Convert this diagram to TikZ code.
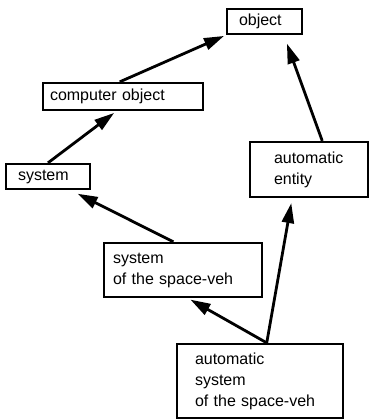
\documentclass[tikz,border=0pt]{standalone}
\usepackage{fontspec}
\setmainfont{Liberation Sans}
\usetikzlibrary{arrows.meta,calc}

\begin{document}
\begin{tikzpicture}[x=1pt,y=-1pt,
  box/.style={draw=black, line width=2.3pt, align=left, inner ysep=0pt,
    font=\fontsize{16}{21}\selectfont},
  arr/.style={line width=2.8pt, -{Triangle[length=20pt,width=12pt]}},
]
\useasboundingbox (0,0) rectangle (369,419);

% boxes: minimum width W, left padding p -> text width W-2p
\node[box, minimum width=75pt, minimum height=25pt, text width=51pt, inner xsep=12pt]
  (obj) at (264.5,21.5) {object};
\node[box, minimum width=160pt, minimum height=27pt, text width=146pt, inner xsep=7pt]
  (co) at (123,96.5) {computer object};
\node[box, minimum width=84pt, minimum height=25pt, text width=60pt, inner xsep=12pt]
  (sys) at (48,176.5) {system};
\node[box, minimum width=118pt, minimum height=55pt, text width=70pt, inner xsep=24pt]
  (ae) at (309,169.5) {automatic\\entity};
\node[box, minimum width=158pt, minimum height=54pt, text width=140pt, inner xsep=9pt]
  (ssv) at (183,270) {system\\of the space-veh};
\node[box, minimum width=166pt, minimum height=74pt, text width=130pt, inner xsep=18pt]
  (assv) at (260,381) {automatic\\system\\of the space-veh};

% generalisation arrows
\draw[arr, shorten >=2pt] ($(co.north west)!0.48!(co.north east)$) -- (obj.south west);
\draw[arr, shorten >=3pt] (sys.north) -- ($(co.south west)!0.46!(co.south east)$);
\draw[arr, shorten >=9pt] ($(ae.north west)!0.61!(ae.north east)$) -- ($(obj.south west)!0.75!(obj.south east)$);
\draw[arr, shorten >=8pt] ($(ssv.north west)!0.44!(ssv.north east)$) -- ($(sys.south west)!0.76!(sys.south east)$);
\draw[arr, shorten >=3pt] ($(assv.north west)!0.54!(assv.north east)$) -- ($(ssv.south west)!0.53!(ssv.south east)$);
\draw[arr, shorten >=5pt] ($(assv.north west)!0.54!(assv.north east)$) -- ($(ae.south west)!0.36!(ae.south east)$);
\end{tikzpicture}
\end{document}
